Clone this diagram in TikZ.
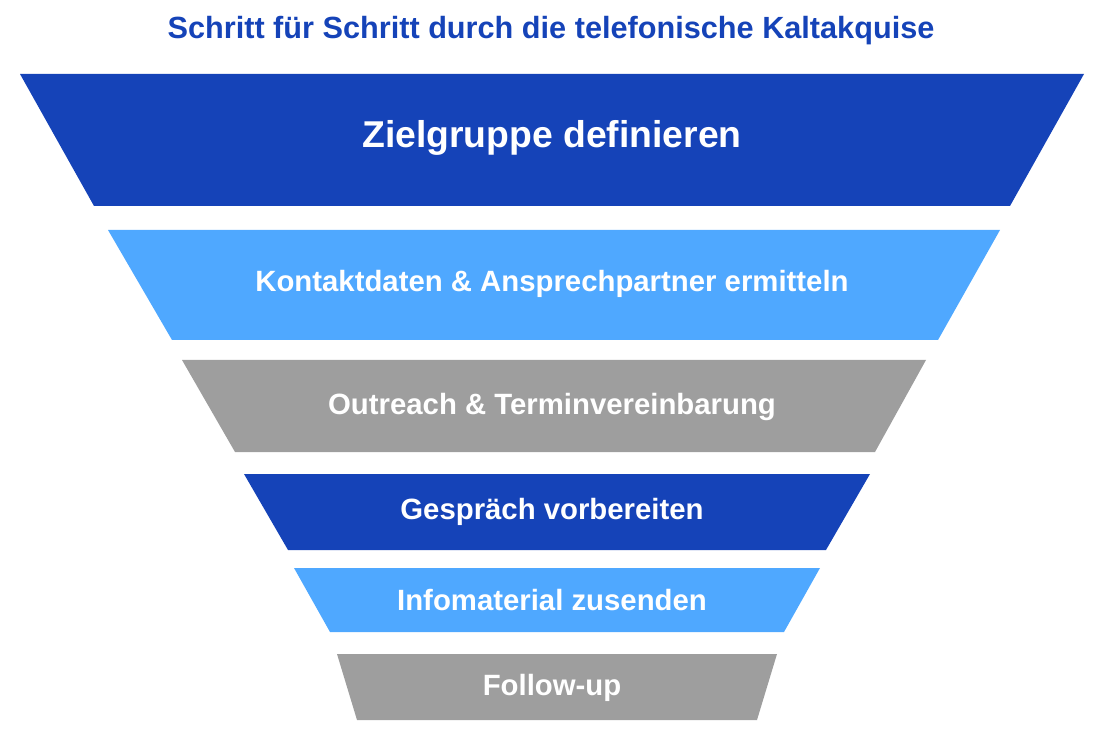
\documentclass[tikz,border=0pt]{standalone}
\usepackage{fontspec}
\setmainfont{Liberation Sans}
\definecolor{dblue}{HTML}{1543B8}
\definecolor{lblue}{HTML}{4FA8FF}
\definecolor{gr}{HTML}{9E9E9E}
\begin{document}
\begin{tikzpicture}[x=0.75pt,y=-0.75pt,
  lab/.style={text=white,font=\bfseries\fontsize{22}{26}\selectfont}]
\useasboundingbox (0,0) rectangle (1100,734);
\node[text=dblue,font=\bfseries\fontsize{23}{28}\selectfont] (title) at (551,31) {Schritt für Schritt durch die telefonische Kaltakquise};
\fill[dblue] (20,74) -- (1084,74) -- (1010,206) -- (94,206) -- cycle;
\node[lab,font=\bfseries\fontsize{28}{32}\selectfont] (s1) at (552,138) {Zielgruppe definieren};
\fill[lblue] (108,230) -- (1000,230) -- (938,340) -- (172,340) -- cycle;
\node[lab] (s2) at (552,284) {Kontaktdaten \& Ansprechpartner ermitteln};
\fill[gr] (182,360) -- (926,360) -- (875,452) -- (235,452) -- cycle;
\node[lab] (s3) at (552,407) {Outreach \& Terminvereinbarung};
\fill[dblue] (244,474) -- (870,474) -- (826,550) -- (288,550) -- cycle;
\node[lab] (s4) at (552,512) {Gespräch vorbereiten};
\fill[lblue] (294,568) -- (820,568) -- (784,632) -- (330,632) -- cycle;
\node[lab] (s5) at (552,600) {Infomaterial zusenden};
\fill[gr] (337,654) -- (777,654) -- (757,720) -- (357,720) -- cycle;
\node[lab] (s6) at (552,688) {Follow-up};
\end{tikzpicture}
\end{document}
